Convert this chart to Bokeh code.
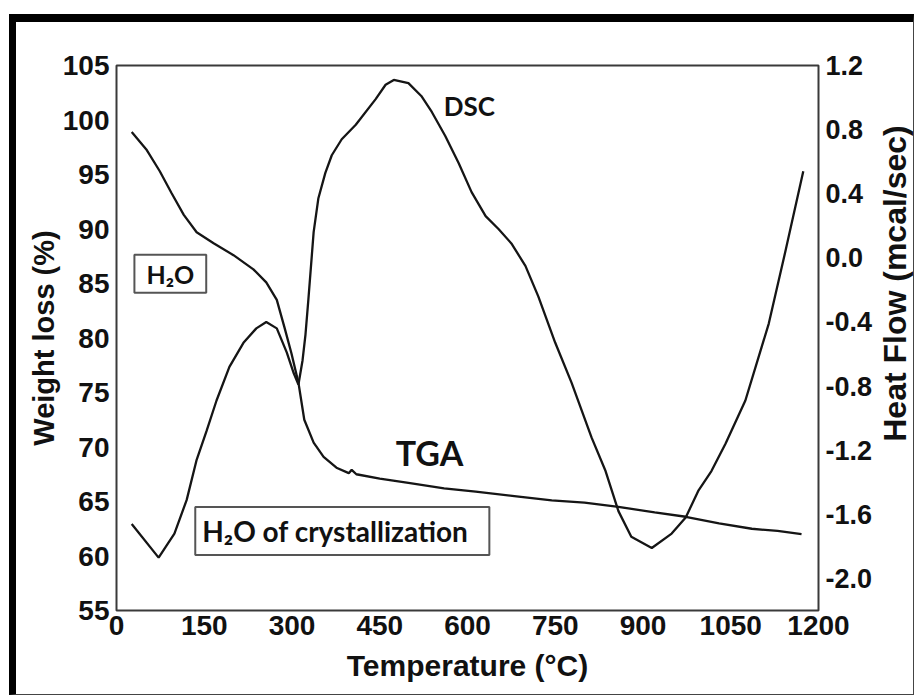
import math
from bokeh.plotting import figure
from bokeh.layouts import row
from bokeh.models import Range1d, LinearAxis, FixedTicker, Label, NumeralTickFormatter
from bokeh.embed import file_html
from bokeh.resources import INLINE

# ---- data ----
tga_temp = [26, 51, 74, 94, 115, 137, 166, 200, 234, 256, 274, 287, 299, 311, 321, 337, 354,
            376, 397, 402, 410, 450, 499, 560, 614, 680, 744, 800, 858, 920, 973, 1030, 1086, 1130, 1171]
tga_weight = [98.9, 97.3, 95.3, 93.3, 91.3, 89.7, 88.7, 87.6, 86.3, 85.1, 83.5, 81.0, 78.6, 75.9, 72.5,
              70.4, 69.1, 68.1, 67.6, 67.9, 67.5, 67.1, 66.7, 66.2, 65.9, 65.5, 65.1, 64.9, 64.5, 64.0,
              63.6, 63.0, 62.5, 62.3, 62.0]

dsc_temp = [26, 72, 99, 120, 137, 154, 171, 193, 217, 239, 256, 274, 291, 303, 311, 318, 323, 328,
            337, 345, 357, 368, 385, 409, 443, 460, 474, 499, 521, 539, 562, 585, 607, 631, 653, 675,
            699, 721, 750, 778, 812, 836, 858, 880, 915, 949, 973, 995, 1017, 1041, 1075, 1115, 1144, 1174]
dsc_heat = [-1.66, -1.87, -1.72, -1.51, -1.26, -1.08, -0.89, -0.68, -0.53, -0.44, -0.40, -0.44, -0.59,
            -0.72, -0.79, -0.64, -0.48, -0.26, 0.16, 0.37, 0.53, 0.64, 0.74, 0.83, 0.99, 1.08, 1.11,
            1.09, 1.01, 0.91, 0.76, 0.59, 0.41, 0.26, 0.18, 0.09, -0.05, -0.24, -0.53, -0.78, -1.12,
            -1.33, -1.58, -1.74, -1.81, -1.72, -1.62, -1.45, -1.33, -1.16, -0.89, -0.41, 0.05, 0.54]

x_ticks = [0, 150, 300, 450, 600, 750, 900, 1050, 1200]
left_ticks = [55, 60, 65, 70, 75, 80, 85, 90, 95, 100, 105]
right_ticks = [-2.0, -1.6, -1.2, -0.8, -0.4, 0.0, 0.4, 0.8, 1.2]

ARIAL = "Liberation Sans"
CAL = "Lato"
LINE = "#151515"
TXT = "#111111"

p = figure(width=859, height=672,
           x_range=Range1d(0, 1200), y_range=Range1d(55, 105),
           output_backend="svg", toolbar_location=None,
           min_border_left=100, min_border_right=55, min_border_top=43, min_border_bottom=84,
           background_fill_color="white", border_fill_color="white")
p.extra_y_ranges = {"heat": Range1d(-2.2, 1.2)}

p.grid.visible = False
p.outline_line_color = "#3a3a3a"
p.outline_line_width = 2

# left axis
ya = p.yaxis[0]
ya.ticker = FixedTicker(ticks=left_ticks)
ya.axis_label = "Weight loss (%)"

# right axis (its title is drawn in the narrow strip to the right, reading bottom to top)
ra = LinearAxis(y_range_name="heat")
ra.ticker = FixedTicker(ticks=right_ticks)
ra.formatter = NumeralTickFormatter(format="0.0")
p.add_layout(ra, "right")

xa = p.xaxis[0]
xa.ticker = FixedTicker(ticks=x_ticks)
xa.axis_label = "Temperature (°C)"

for ax in [ya, ra, xa]:
    ax.axis_line_color = None
    ax.major_tick_line_color = None
    ax.minor_tick_line_color = None
    ax.major_tick_out = 0
    ax.major_tick_in = 0
    ax.major_label_text_font = ARIAL
    ax.axis_label_text_font = ARIAL
    ax.major_label_text_font_style = "bold"
    ax.axis_label_text_font_style = "bold"
    ax.major_label_text_color = TXT
    ax.axis_label_text_color = TXT

ya.major_label_text_font_size = "28px"
ya.major_label_standoff = 7
ya.axis_label_text_font_size = "29px"
ya.axis_label_standoff = 0

ra.major_label_text_font_size = "27px"
ra.major_label_standoff = 7

xa.major_label_text_font_size = "28px"
xa.major_label_standoff = 5
xa.axis_label_text_font_size = "30px"
xa.axis_label_standoff = 11

# curves
p.line(tga_temp, tga_weight, line_color=LINE, line_width=2.3)
p.line(dsc_temp, dsc_heat, line_color=LINE, line_width=2.3, y_range_name="heat")

# annotations
p.add_layout(Label(x=603, y=101.3, text="DSC", text_font=CAL, text_font_style="bold",
                   text_font_size="26px", text_align="center", text_baseline="middle", text_color=TXT))
p.add_layout(Label(x=535, y=69.5, text="TGA", text_font=CAL, text_font_style="bold",
                   text_font_size="34px", text_align="center", text_baseline="middle", text_color=TXT))
p.add_layout(Label(x=92, y=85.9, text="H₂O", text_font=CAL, text_font_style="bold",
                   text_font_size="25px", text_align="center", text_baseline="middle", text_color=TXT,
                   background_fill_color="white", border_line_color="#555555", border_line_width=2,
                   padding=dict(left=12, right=12, top=4, bottom=4)))
p.add_layout(Label(x=386, y=62.3, text="H₂O of crystallization", text_font=CAL, text_font_style="bold",
                   text_font_size="28px", text_align="center", text_baseline="middle", text_color=TXT,
                   background_fill_color="white", border_line_color="#555555", border_line_width=2,
                   padding=dict(left=7, right=21, top=7, bottom=7)))

# narrow strip holding the right-hand axis title
pt = figure(width=38, height=672,
            x_range=Range1d(0, 1), y_range=Range1d(-2.2, 1.2),
            output_backend="svg", toolbar_location=None,
            x_axis_location=None, y_axis_location=None,
            min_border_left=0, min_border_right=0, min_border_top=43, min_border_bottom=84,
            background_fill_color="white", border_fill_color="white")
pt.grid.visible = False
pt.outline_line_color = None
pt.add_layout(Label(x=0.5, y=-0.16, text="Heat Flow (mcal/sec)", angle=math.pi / 2,
                    text_font=ARIAL, text_font_style="bold", text_font_size="32px",
                    text_align="center", text_baseline="middle", text_color=TXT))

layout = row(p, pt, spacing=0,
             styles={"margin-left": "9px", "margin-top": "14px",
                     "border-left": "7px solid black", "border-top": "8px solid black",
                     "border-right": "1px solid #444444", "border-bottom": "1px solid #444444"})
open("out.html", "w").write(file_html(layout, INLINE))
